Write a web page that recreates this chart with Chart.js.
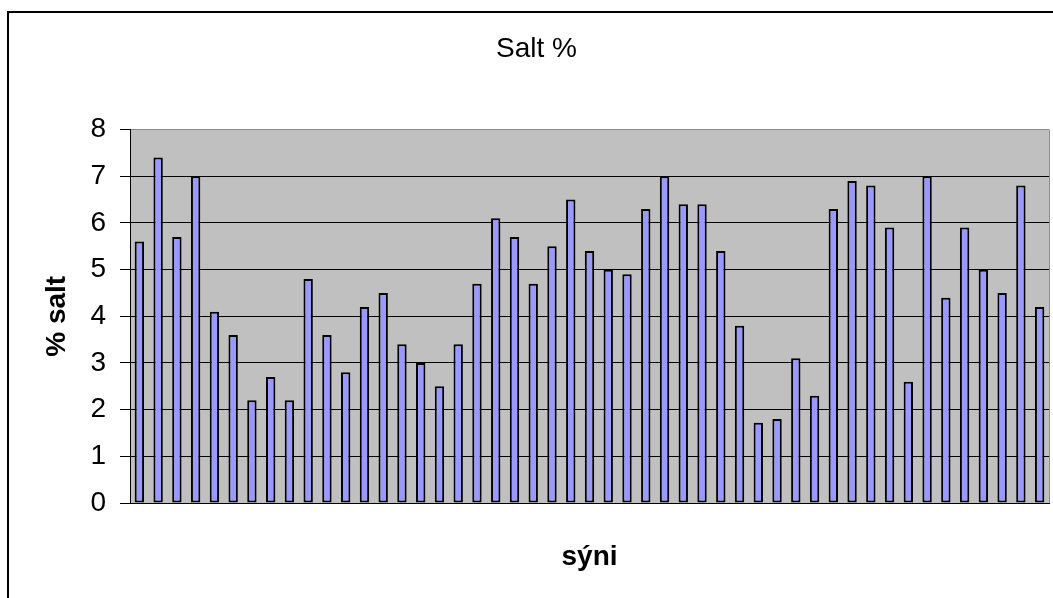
<!DOCTYPE html>
<html>
<head>
<meta charset="utf-8">
<script src="https://cdn.jsdelivr.net/npm/chart.js@4/dist/chart.umd.min.js"></script>
<style>
    html, body { margin: 0; padding: 0; background: #fff; overflow: hidden; }
    #wrap { position: relative; width: 1053px; height: 598px; }
    #frame {
        position: absolute; left: 7px; top: 11px; width: 1200px; height: 800px;
        border-left: 2px solid #000; border-top: 2px solid #000;
    }
    canvas { position: absolute; left: 0; top: 0; }
</style>
</head>
<body>
<div id="wrap">
    <div id="frame"></div>
    <canvas id="saltChart" width="1053" height="598"></canvas>
</div>
<script>
"use strict";

// one value per sample (sýni)
const samples = Array.from({ length: 49 }, (_, i) => String(i + 1));
const saltValues = [
    5.6, 7.4, 5.7, 7.0, 4.1, 3.6, 2.2, 2.7, 2.2, 4.8,
    3.6, 2.8, 4.2, 4.5, 3.4, 3.0, 2.5, 3.4, 4.7, 6.1,
    5.7, 4.7, 5.5, 6.5, 5.4, 5.0, 4.9, 6.3, 7.0, 6.4,
    6.4, 5.4, 3.8, 1.72, 1.8, 3.1, 2.3, 6.3, 6.9, 6.8,
    5.9, 2.6, 7.0, 4.4, 5.9, 5.0, 4.5, 6.8, 4.2
];
const yTicks = [0, 1, 2, 3, 4, 5, 6, 7, 8];

const FONT = "'Liberation Sans', Arial, sans-serif";

// grey plot background + grey right edge, like the old excel chart
const plotBackground = {
    id: 'plotBackground',
    beforeDraw(chart) {
        const { ctx, chartArea: { left, top, right, bottom } } = chart;
        ctx.save();
        ctx.fillStyle = '#c0c0c0';
        ctx.fillRect(left, top, right - left, bottom - top);
        ctx.strokeStyle = '#8c8c8c';
        ctx.lineWidth = 1;
        ctx.beginPath();
        ctx.moveTo(right + 0.5, top);
        ctx.lineTo(right + 0.5, bottom);
        ctx.stroke();
        ctx.restore();
    }
};

new Chart(document.getElementById('saltChart'), {
    type: 'bar',
    data: {
        labels: samples,
        datasets: [{
            data: saltValues,
            backgroundColor: '#9999ff',
            borderColor: '#000',
            borderWidth: 2,
            borderSkipped: false,
            categoryPercentage: 0.5,
            barPercentage: 1
        }]
    },
    options: {
        responsive: false,
        animation: false,
        layout: { padding: { left: 24, right: 4, top: 0, bottom: 0 } },
        plugins: {
            legend: { display: false },
            tooltip: { enabled: false },
            title: {
                display: true,
                text: 'Salt %',
                color: '#000',
                font: { family: FONT, size: 28, weight: 'normal' },
                padding: { top: 32, bottom: 64 }
            }
        },
        scales: {
            x: {
                grid: { display: false },
                border: { display: true, color: '#000', width: 1 },
                ticks: { display: false },
                title: {
                    display: true,
                    text: 'sýni',
                    color: '#000',
                    font: { family: FONT, size: 28, weight: 'bold' },
                    padding: { top: 0, bottom: 24 }
                },
                afterFit: scale => { scale.height = 95; }
            },
            y: {
                min: 0,
                max: 8,
                afterBuildTicks: scale => { scale.ticks = yTicks.map(v => ({ value: v })); },
                grid: {
                    color: ctx => ctx.tick && ctx.tick.value === 8 ? '#8c8c8c' : '#000',
                    tickColor: '#000',
                    tickLength: 10,
                    lineWidth: 1
                },
                border: { display: true, color: '#000', width: 1 },
                ticks: {
                    color: '#000',
                    padding: 14,
                    font: { family: FONT, size: 28 }
                },
                title: {
                    display: true,
                    text: '% salt',
                    color: '#000',
                    font: { family: FONT, size: 28, weight: 'bold' },
                    padding: { top: 16, bottom: 0 }
                },
                afterFit: scale => { scale.width = 106; }
            }
        }
    },
    plugins: [plotBackground]
});
</script>
</body>
</html>
